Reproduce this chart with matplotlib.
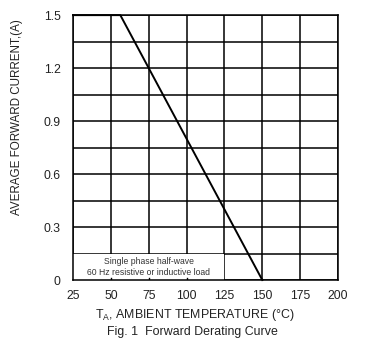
import matplotlib
matplotlib.use("Agg")
import matplotlib.pyplot as plt
from matplotlib.patches import Rectangle

plt.rcParams['font.family'] = ['Liberation Sans', 'DejaVu Sans']

# derating curve
temp = [25, 56.25, 150]
current = [1.5, 1.5, 0]

x_ticks = [25, 50, 75, 100, 125, 150, 175, 200]
y_ticks = [0, 0.3, 0.6, 0.9, 1.2, 1.5]
y_minor = [0.15, 0.45, 0.75, 1.05, 1.35]

fig = plt.figure(figsize=(3.66, 3.44), dpi=100)
ax = fig.add_axes([0.1995, 0.186, 0.724, 0.770])

ax.set_xlim(25, 200)
ax.set_ylim(0, 1.5)
ax.set_xticks(x_ticks)
ax.set_yticks(y_ticks)
ax.set_yticks(y_minor, minor=True)
ax.set_yticklabels(['0', '0.3', '0.6', '0.9', '1.2', '1.5'])
ax.grid(True, which='both', color='black', linewidth=1.1)
ax.tick_params(which='both', length=0, labelsize=8.8, labelcolor='#222222', pad=9)
ax.tick_params(axis='x', pad=7)
for s in ax.spines.values():
    s.set_linewidth(1.1)

# white box behind the note, covers the grid in the bottom row
ax.add_patch(Rectangle((25, 0), 100, 0.15, facecolor='white', edgecolor='none', zorder=2.5))
for xv in [50, 75, 100]:
    ax.plot([xv, xv], [0, 0.012], color='black', lw=1, zorder=2.6)
ax.text(75, 0.075, 'Single phase half-wave\n60 Hz resistive or inductive load',
        ha='center', va='center', fontsize=6.2, color='#333333', zorder=3, linespacing=1.3)

ax.plot(temp, current, color='black', lw=1.4, zorder=4, clip_on=False)

fig.text(0.046, 0.66, 'AVERAGE FORWARD CURRENT,(A)', rotation=90, ha='center', va='center',
         fontsize=8.4, color='#222222')
fig.text(0.533, 0.083, r'T$_\mathregular{A}$, AMBIENT TEMPERATURE (°C)', ha='center', va='center',
         fontsize=8.9, color='#222222')
fig.text(0.527, 0.035, 'Fig. 1  Forward Derating Curve', ha='center', va='center',
         fontsize=8.9, color='#222222')

fig.savefig('out.png', dpi=100)
